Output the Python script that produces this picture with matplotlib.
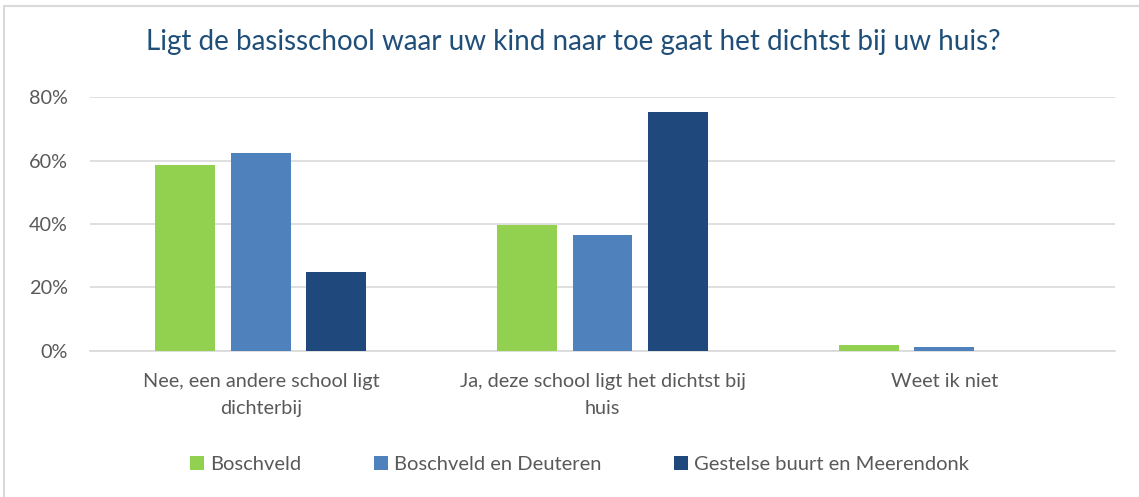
import matplotlib.pyplot as plt
import numpy as np
from matplotlib.patches import Rectangle

categories = ["Nee, een andere school ligt\ndichterbij",
              "Ja, deze school ligt het dichtst bij\nhuis",
              "Weet ik niet"]
series = ["Boschveld", "Boschveld en Deuteren", "Gestelse buurt en Meerendonk"]
boschveld = [58.6, 39.7, 1.9]
deuteren = [62.4, 36.5, 1.3]
gestelse = [24.9, 75.3, 0.0]
colors = ["#92D050", "#4F81BD", "#1F497D"]

plt.rcParams['font.family'] = ['Lato', 'DejaVu Sans']

fig = plt.figure(figsize=(11.39, 4.97), dpi=100)
ax = fig.add_axes([0.079, 0.2938, 0.9, 0.511])

x = np.arange(len(categories))
w = 0.175
step = 0.221
for i, (vals, name) in enumerate(zip([boschveld, deuteren, gestelse], series)):
    ax.bar(x + (i - 1) * step, vals, w, color=colors[i], label=name, zorder=3)

ax.set_xlim(-0.5, 2.5)
ax.set_ylim(0, 80)
ax.set_yticks([0, 20, 40, 60, 80])
ax.set_yticklabels(["0%", "20%", "40%", "60%", "80%"])
ax.set_xticks(x)
ax.set_xticklabels(categories, fontsize=14.3, color="#595959", linespacing=1.7)
ax.tick_params(axis='y', labelsize=14.3, labelcolor="#595959", length=0, pad=16)
ax.tick_params(axis='x', length=0, pad=16)
ax.grid(axis='y', color="#D9D9D9", linewidth=1.2, zorder=0)
for s in ["top", "right", "left"]:
    ax.spines[s].set_visible(False)
ax.spines["bottom"].set_color("#D9D9D9")
ax.spines["bottom"].set_linewidth(1.2)

fig.text(0.503, 0.915, "Ligt de basisschool waar uw kind naar toe gaat het dichtst bij uw huis?",
         ha="center", va="center", fontsize=20, color="#1F4E79")

leg = fig.legend(loc="center", bbox_to_anchor=(0.509, 0.066), ncol=3, frameon=False,
                 fontsize=14.5, handlelength=0.7, handleheight=0.7, handletextpad=0.3,
                 columnspacing=3.6)
for t in leg.get_texts():
    t.set_color("#595959")

fig.patches.append(Rectangle((4 / 1139, -0.01), 1.0, 1 - 6 / 497 + 0.01, transform=fig.transFigure,
                             fill=False, edgecolor="#D9D9D9", linewidth=1.5))

fig.savefig("out.png", dpi=100)
